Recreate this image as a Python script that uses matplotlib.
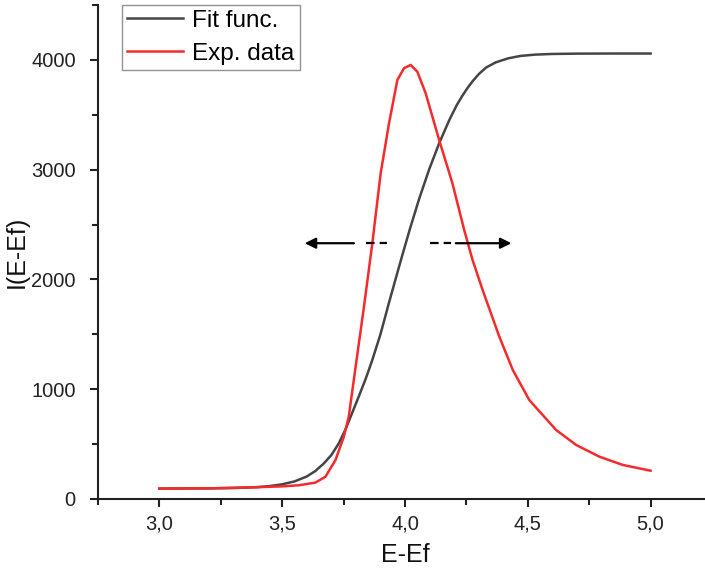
import matplotlib
matplotlib.use("Agg")
import matplotlib.pyplot as plt
from matplotlib.ticker import MultipleLocator, FuncFormatter

plt.rcParams['font.family'] = ['Liberation Sans', 'DejaVu Sans']
plt.rcParams['lines.scale_dashes'] = False

# Experimental data (red)
exp_x = [3.00, 3.20, 3.36, 3.50, 3.567, 3.635, 3.676, 3.717, 3.751, 3.771, 3.799,
         3.833, 3.867, 3.901, 3.935, 3.969, 3.996, 4.023, 4.050, 4.084, 4.139,
         4.193, 4.241, 4.275, 4.316, 4.384, 4.439, 4.506, 4.615, 4.697, 4.792,
         4.887, 5.00]
exp_y = [95, 97, 105, 115, 125, 149, 203, 355, 568, 750, 1205,
         1752, 2330, 2968, 3423, 3818, 3924, 3954, 3893, 3697, 3271,
         2877, 2451, 2178, 1904, 1479, 1175, 902, 629, 492, 385,
         310, 258]

# Fit function (dark grey)
fit_x = [3.00, 3.20, 3.30, 3.40, 3.45, 3.50, 3.55, 3.60, 3.635, 3.67, 3.70,
         3.73, 3.758, 3.785, 3.812, 3.84, 3.867, 3.90, 3.935, 3.965, 3.989,
         4.02, 4.057, 4.098, 4.139, 4.180, 4.21, 4.234, 4.255, 4.275, 4.30,
         4.33, 4.37, 4.42, 4.47, 4.53, 4.60, 4.70, 4.85, 5.00]
fit_y = [95, 97, 100, 108, 118, 134, 160, 205, 255, 325, 400,
         505, 635, 785, 935, 1095, 1267, 1500, 1790, 2030, 2220,
         2460, 2730, 3000, 3240, 3450, 3585, 3675, 3745, 3805, 3870,
         3930, 3978, 4014, 4036, 4048, 4054, 4057, 4058, 4058]

# Width arrows (annotation)
arrow_y = 2330
left_tip, left_solid_end, left_dash = 3.592, 3.792, (3.840, 3.928)
right_dash, right_solid_start, right_tip = (4.101, 4.186), 4.207, 4.433

fig = plt.figure(figsize=(7.05, 5.79), dpi=100)
ax = fig.add_axes([98/705, 1-499/579, (712-98)/705, (499-5)/579])

ax.plot(fit_x, fit_y, color='#454545', lw=1.8, label='Fit func.')
ax.plot(exp_x, exp_y, color='#f52a2a', lw=1.8, label='Exp. data')

# arrows
ax.annotate('', xy=(left_tip, arrow_y), xytext=(left_solid_end, arrow_y),
            arrowprops=dict(arrowstyle='-|>', color='black', lw=1.6,
                            mutation_scale=16, shrinkA=0, shrinkB=0))
ax.annotate('', xy=(right_tip, arrow_y), xytext=(right_solid_start, arrow_y),
            arrowprops=dict(arrowstyle='-|>', color='black', lw=1.6,
                            mutation_scale=16, shrinkA=0, shrinkB=0))
ax.plot(left_dash, [arrow_y, arrow_y], color='black', lw=1.6,
        linestyle=(0, (6.2, 3.6)))
ax.plot(right_dash, [arrow_y, arrow_y], color='black', lw=1.6,
        linestyle=(0, (6.2, 3.6)))

ax.set_xlim(2.75, 5.25)
ax.set_ylim(0, 4500)
ax.xaxis.set_minor_locator(MultipleLocator(0.25))
ax.yaxis.set_major_locator(MultipleLocator(1000))
ax.yaxis.set_minor_locator(MultipleLocator(500))
ax.set_xticks([3.0, 3.5, 4.0, 4.5, 5.0])
ax.xaxis.set_major_formatter(FuncFormatter(lambda v, p: f"{v:.1f}".replace('.', ',')))

for s in ['top', 'right']:
    ax.spines[s].set_visible(False)
for s in ['left', 'bottom']:
    ax.spines[s].set_linewidth(1.5)
    ax.spines[s].set_color('#222222')

ax.tick_params(which='major', direction='out', length=6, width=1.5, labelsize=14.5, colors='#222222')
ax.tick_params(which='minor', direction='out', length=4, width=1.5, colors='#222222')
ax.tick_params(axis='y', which='major', pad=10)
ax.tick_params(axis='x', which='major', pad=5)

ax.set_xlabel('E-Ef', fontsize=18, labelpad=7, color='#111111')
ax.set_ylabel('I(E-Ef)', fontsize=18, labelpad=2, color='#111111')

leg = ax.legend(loc='upper left', bbox_to_anchor=(24/614, 1.0), fontsize=17.5,
                frameon=True, fancybox=False, handlelength=2.3, handletextpad=0.4,
                borderpad=0.2, labelspacing=0.45, borderaxespad=0.0)
leg.get_frame().set_edgecolor('#777777')
leg.get_frame().set_linewidth(1.0)

fig.savefig('out.png', dpi=100)
